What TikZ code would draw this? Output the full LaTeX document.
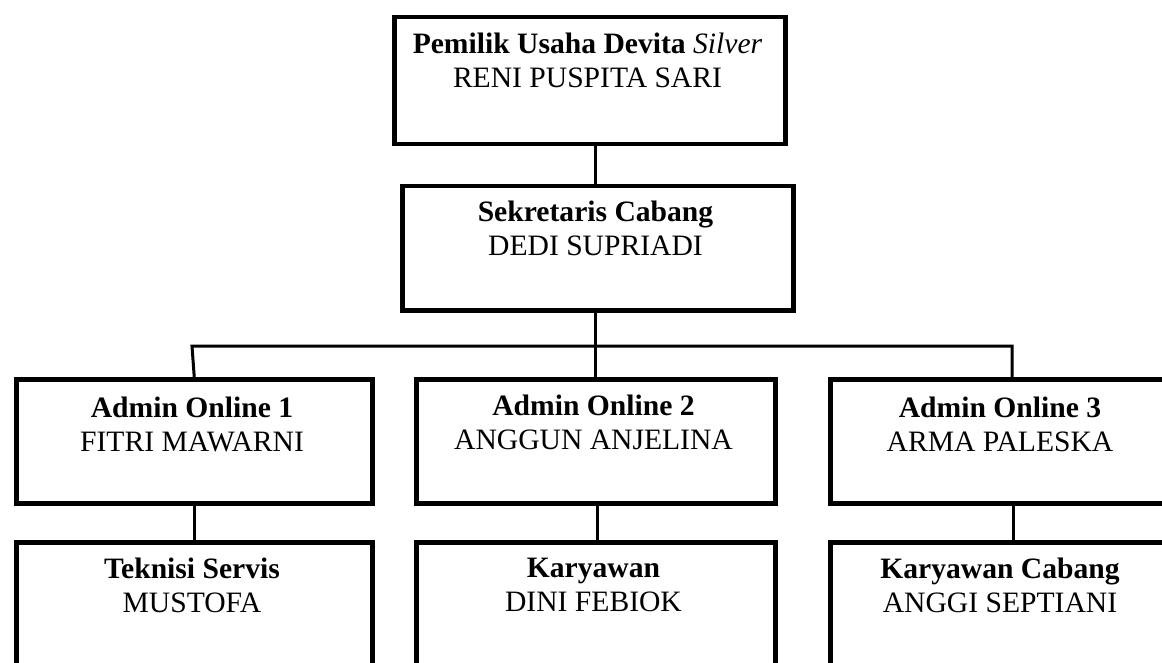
\documentclass[tikz,border=0pt]{standalone}
\usepackage{fontspec}
\setmainfont{Liberation Serif}
\begin{document}
\begin{tikzpicture}[x=1pt,y=-1pt,
  box/.style={draw, line width=4.5pt, inner sep=0pt, anchor=north west},
  lbl/.style={anchor=north, inner sep=0pt, align=center, font=\fontsize{29.6}{34}\selectfont},
  link/.style={line width=3pt}]
\useasboundingbox (0,0) rectangle (1162,663);
\clip (0,0) rectangle (1162,663);
% boxes
\node[box, minimum width=391, minimum height=127] (top) at (392,15) {};
\node[box, minimum width=391, minimum height=124] (sek) at (400,184) {};
\node[box, minimum width=356, minimum height=124] (a1) at (14,377) {};
\node[box, minimum width=359, minimum height=124] (a2) at (414,377) {};
\node[box, minimum width=350, minimum height=124] (a3) at (828,377) {};
\node[box, minimum width=356, minimum height=200] (t1) at (14,540) {};
\node[box, minimum width=359, minimum height=200] (t2) at (414,540) {};
\node[box, minimum width=350, minimum height=200] (t3) at (828,540) {};
% texts
\node[lbl] (l0) at (587.5,33) {\textbf{Pemilik Usaha Devita} \textit{Silver}\\RENI PUSPITA SARI};
\node[lbl] (l1) at (595.5,201) {\textbf{Sekretaris Cabang}\\DEDI SUPRIADI};
\node[lbl] (l2) at (192,397) {\textbf{Admin Online 1}\\FITRI MAWARNI};
\node[lbl] (l3) at (593.5,395) {\textbf{Admin Online 2}\\ANGGUN ANJELINA};
\node[lbl] (l4) at (1000,397) {\textbf{Admin Online 3}\\ARMA PALESKA};
\node[lbl] (l5) at (192,558) {\textbf{Teknisi Servis}\\MUSTOFA};
\node[lbl] (l6) at (593.5,558) {\textbf{Karyawan}\\DINI FEBIOK};
\node[lbl] (l7) at (1000,558) {\textbf{Karyawan Cabang}\\ANGGI SEPTIANI};
% connector coordinates
\coordinate (c0) at (595,0);
\coordinate (b1) at (192,346);
\coordinate (b2) at (595,346);
\coordinate (b3) at (1012,346);
\coordinate (d2) at (597,0);
\coordinate (d3) at (1013,0);
% connectors
\draw[link] (top.south -| c0) -- (sek.north -| c0);
\draw[link] (sek.south -| b2) -- (b2) -- (a2.north -| b2);
\draw[link] (a1.north) -- (b1) -- (b3) -- (a3.north -| b3);
\draw[link] (a1.south) -- (t1.north);
\draw[link] (a2.south -| d2) -- (t2.north -| d2);
\draw[link] (a3.south -| d3) -- (t3.north -| d3);
\end{tikzpicture}
\end{document}
